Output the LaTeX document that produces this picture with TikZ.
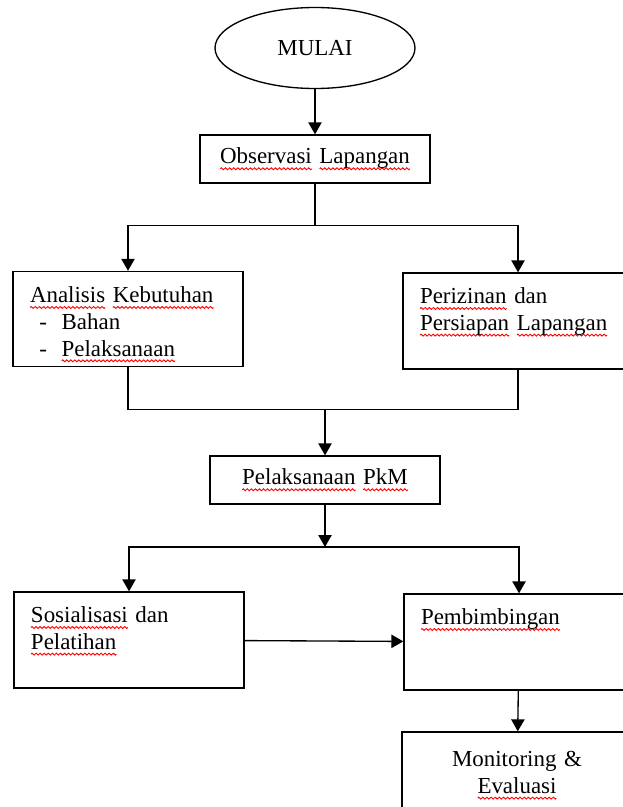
\documentclass[tikz,border=0pt]{standalone}
\usepackage{fontspec}
\setmainfont{Liberation Serif}[WordSpace = 0.55]
\usetikzlibrary{arrows.meta}
\usetikzlibrary{shapes.geometric}
\newsavebox{\gelombang}
\newsavebox{\kata}
\newcommand{\salah}[1]{\leavevmode\sbox{\kata}{#1}\rlap{\lower3.6pt\hbox to \wd\kata{\xleaders\copy\gelombang\hfill}}\usebox{\kata}}
\tikzset{elips/.style = {draw, ellipse, minimum width = 150pt, minimum height = 60.75pt, inner sep = 0, font = \fontsize{17.2}{20}\selectfont}}
\tikzset{kotak/.style = {draw, text width = 147pt, inner xsep = 12.75pt, inner ysep = 3pt, minimum height = 36pt, align = center, font = \fontsize{17.2}{20}\selectfont}}
\tikzset{kotakbesar/.style = {kotak, minimum height = 71.25pt, align = left}}
\tikzset{panah/.style = {-{Triangle[length = 9pt, width = 10pt]}}}

\begin{document}
\sbox{\gelombang}{\begin{pgfpicture}
    \pgfpathrectanglecorners{\pgfpoint{0pt}{-0.9pt}}{\pgfpoint{3pt}{0.9pt}}
    \pgfusepath{use as bounding box}
    \pgfpathmoveto{\pgfpoint{0pt}{0pt}}
    \pgfpathsine{\pgfpoint{0.75pt}{0.7pt}}
    \pgfpathcosine{\pgfpoint{0.75pt}{-0.7pt}}
    \pgfpathsine{\pgfpoint{0.75pt}{-0.7pt}}
    \pgfpathcosine{\pgfpoint{0.75pt}{0.7pt}}
    \pgfsetlinewidth{0.7pt}
    \pgfsetstrokecolor{red}
    \pgfusepath{stroke}
    \pgfsetbaseline{0pt}
\end{pgfpicture}}
\begin{tikzpicture}[x = 0.75pt, y = -0.75pt, line width = 1pt]
    \clip (0, 0) rectangle (623, 807);
    \node [elips] (mulai) at (315, 48) {MULAI};
    \node [kotak] (observasi) at (315, 159) {\salah{Observasi} \salah{Lapangan}};
    \node [kotakbesar] (analisis) at (128, 319) {\rule{0pt}{20pt}\salah{Analisis} \salah{Kebutuhan}\\ \hspace*{7pt}-\hspace{11pt}Bahan\\ \hspace*{7pt}-\hspace{11pt}\salah{Pelaksanaan}};
    \node [kotakbesar] (perizinan) at (518, 321) {\rule{0pt}{20pt}\salah{Perizinan} dan\\ \salah{Persiapan} \salah{Lapangan}\\ \strut};
    \node [kotak] (pelaksanaan) at (325, 480) {\salah{Pelaksanaan} \salah{PkM}};
    \node [kotakbesar] (sosialisasi) at (129, 640) {\rule{0pt}{20pt}\salah{Sosialisasi} dan\\ \salah{Pelatihan}\\ \strut};
    \node [kotakbesar] (pembimbingan) at (519, 642) {\rule{0pt}{20pt}\salah{Pembimbingan}\\ \strut\\ \strut};
    \node [kotakbesar, align = center] (monitoring) at (517, 782) {\rule{0pt}{23pt}Monitoring \&\\ \salah{Evaluasi}\\ \strut};
    \coordinate (gabung) at (325, 408.5);
    \coordinate (cabang) at (325, 547);
    \draw [panah] (mulai) -- (observasi);
    \draw [panah] (observasi.south) -- ++(0, 42) -| (analisis.north);
    \draw [panah] (observasi.south) -- ++(0, 42) -| (perizinan.north);
    \draw (analisis.south) -- ++(0, 42) -| (perizinan.south);
    \draw [panah] (gabung) -- (pelaksanaan.north);
    \draw [panah] (pelaksanaan) -- (cabang);
    \draw [panah] (cabang) -| (sosialisasi.north);
    \draw [panah] (cabang) -| (pembimbingan.north);
    \draw [panah] (sosialisasi) -- (pembimbingan);
    \draw [panah] (pembimbingan) -- (monitoring);
\end{tikzpicture}
\end{document}
